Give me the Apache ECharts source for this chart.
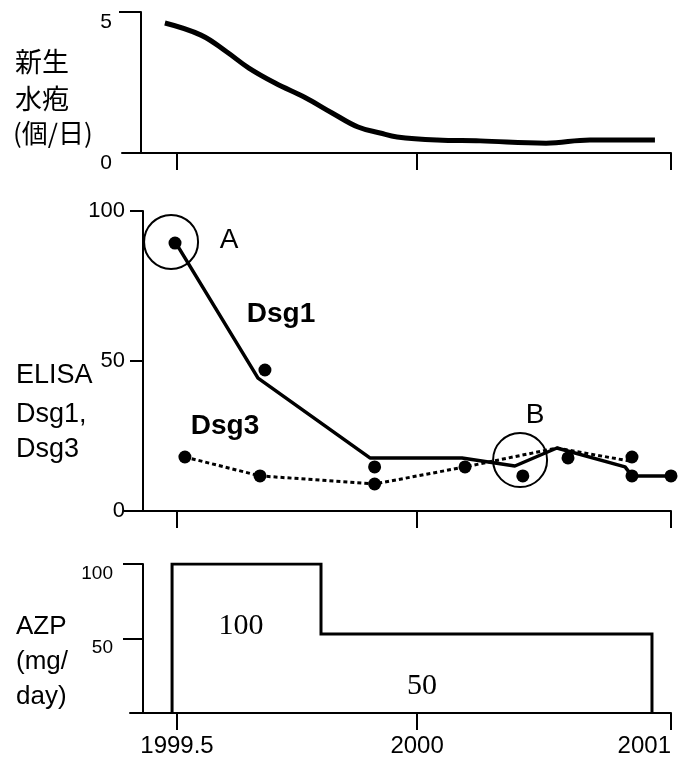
<!DOCTYPE html>
<html>
<head>
<meta charset="utf-8">
<script src="https://cdn.jsdelivr.net/npm/echarts@6.0.0/dist/echarts.min.js"></script>
<style>
  html, body { margin: 0; padding: 0; background: #fff; }
  #chart { width: 685px; height: 771px; }
</style>
</head>
<body>
<div id="chart"></div>
<script>
// x is measured in "ticks": 0 = 1999.5, 2 = 2001 (the original axis is not linear in time)
const xTickPos = [0, 0.972, 2];
const xTickLabels = ['1999.5', '2000', '2001'];

// top panel - new blisters per day
const blisterX = [-0.049, 0.097, 0.202, 0.291, 0.397, 0.522, 0.628, 0.733, 0.822, 0.891, 1.053, 1.227, 1.494, 1.672, 1.935];
const blisterY = [4.61, 4.18, 3.58, 3.01, 2.48, 1.95, 1.42, 0.92, 0.71, 0.57, 0.46, 0.43, 0.35, 0.46, 0.46];

// middle panel - ELISA
const dsg1LineX = [0, 0.328, 0.781, 1.154, 1.368, 1.538, 1.814, 1.842, 2.0];
const dsg1LineY = [88.7, 44.3, 17.7, 17.7, 15, 21, 14.7, 11.7, 11.7];
const dsg1DotX = [-0.008, 0.356, 0.80, 1.40, 1.842, 2.0];
const dsg1DotY = [89.3, 47, 14.7, 11.7, 11.7, 11.7];
const dsg3LineX = [0.032, 0.336, 0.80, 1.166, 1.538, 1.842];
const dsg3LineY = [18, 11.7, 9, 14.7, 21, 16.5];
const dsg3DotX = [0.032, 0.336, 0.80, 1.166, 1.583, 1.842];
const dsg3DotY = [18, 11.7, 9, 14.7, 17.7, 18];
const circleX = [-0.024, 1.389];   // A, B
const circleY = [89.7, 17];

// bottom panel - AZP dose
const azpX = [-0.02, -0.02, 0.583, 0.583, 1.923, 1.923];
const azpY = [0, 100, 100, 53, 53, 0];

const zip = (xs, ys) => xs.map((x, i) => [x, ys[i]]);

const black = '#000';
const sans = "'Liberation Sans', Arial, sans-serif";

function xAxisFor(gridIndex, min, showLabels) {
  return {
    type: 'value',
    gridIndex: gridIndex,
    min: min,
    max: 2,
    axisLine: { onZero: false, lineStyle: { color: black, width: 2 } },
    axisTick: { customValues: xTickPos, length: 17, lineStyle: { color: black, width: 2 } },
    axisLabel: {
      show: showLabels,
      customValues: xTickPos,
      formatter: (v) => xTickLabels[xTickPos.indexOf(v)],
      color: black,
      fontFamily: sans,
      fontSize: 24,
      margin: 21,
      alignMaxLabel: 'right'
    },
    splitLine: { show: false }
  };
}

function yAxisFor(gridIndex, max, offset, labelVals, tickVals, tickLen, margin, fontSize, vAlign) {
  return {
    type: 'value',
    gridIndex: gridIndex,
    min: 0,
    max: max,
    offset: offset,
    axisLine: { show: true, onZero: false, lineStyle: { color: black, width: 2 } },
    axisTick: { show: true, customValues: tickVals, length: tickLen, lineStyle: { color: black, width: 2 } },
    axisLabel: {
      customValues: labelVals,
      color: black,
      fontFamily: sans,
      fontSize: fontSize,
      margin: margin,
      verticalAlign: vAlign
    },
    splitLine: { show: false }
  };
}

function txt(text, x, y, size, opts) {
  opts = opts || {};
  return {
    type: 'text',
    x: x,
    y: y,
    style: {
      text: text,
      fill: black,
      font: (opts.weight || 'normal') + ' ' + size + 'px ' + (opts.family || sans),
      textAlign: opts.align || 'left',
      textVerticalAlign: 'middle'
    }
  };
}

const cjk = "'Noto Sans CJK JP', 'Noto Sans CJK SC', sans-serif";
const serif = "'Liberation Serif', 'Times New Roman', serif";

const option = {
  animation: false,
  backgroundColor: '#fff',
  grid: [
    { left: 122, right: 14, top: 12, height: 141 },
    { left: 124, right: 14, top: 211, height: 300 },
    { left: 130, right: 14, top: 564, height: 149 }
  ],
  xAxis: [
    xAxisFor(0, -0.2227, false),
    xAxisFor(1, -0.2146, false),
    xAxisFor(2, -0.1903, true)
  ],
  yAxis: [
    yAxisFor(0, 5, -19, [0, 5], [5], 22, 29, 21, 'top'),
    yAxisFor(1, 100, -19, [0, 50, 100], [50, 100], 13, 18, 22, 'middle'),
    yAxisFor(2, 100, -13, [50, 100], [50, 100], 20, 30, 19, 'top')
  ],
  series: [
    {
      type: 'line', xAxisIndex: 0, yAxisIndex: 0,
      data: zip(blisterX, blisterY),
      smooth: 0.4, showSymbol: false,
      lineStyle: { color: black, width: 5 }
    },
    {
      type: 'line', xAxisIndex: 1, yAxisIndex: 1,
      data: zip(dsg1LineX, dsg1LineY),
      showSymbol: false,
      lineStyle: { color: black, width: 3.5 }
    },
    {
      type: 'line', xAxisIndex: 1, yAxisIndex: 1,
      data: zip(dsg3LineX, dsg3LineY),
      showSymbol: false,
      lineStyle: { color: black, width: 3, type: [4, 3] }
    },
    {
      type: 'scatter', xAxisIndex: 1, yAxisIndex: 1,
      data: zip(dsg1DotX, dsg1DotY).concat(zip(dsg3DotX, dsg3DotY)),
      symbolSize: 13,
      itemStyle: { color: black, opacity: 1 }
    },
    {
      type: 'scatter', xAxisIndex: 1, yAxisIndex: 1,
      data: zip(circleX, circleY),
      symbolSize: 54,
      itemStyle: { color: 'rgba(0,0,0,0)', borderColor: black, borderWidth: 2, opacity: 1 }
    },
    {
      type: 'line', xAxisIndex: 2, yAxisIndex: 2,
      data: zip(azpX, azpY),
      showSymbol: false,
      lineStyle: { color: black, width: 3, join: 'miter' }
    }
  ],
  graphic: [
    txt('新生', 15, 62, 27, { family: cjk }),
    txt('水疱', 15, 99, 27, { family: cjk }),
    txt('(個/日)', 13, 133, 26, { family: cjk }),
    txt('ELISA', 16, 376, 27),
    txt('Dsg1,', 16, 415, 27),
    txt('Dsg3', 16, 450, 27),
    txt('AZP', 16, 627, 26),
    txt('(mg/', 16, 662, 26),
    txt('day)', 16, 697, 26),
    txt('A', 229, 240, 28, { align: 'center' }),
    txt('B', 535, 415, 28, { align: 'center' }),
    txt('Dsg1', 281, 314, 28, { align: 'center', weight: 'bold' }),
    txt('Dsg3', 225, 426, 28, { align: 'center', weight: 'bold' }),
    txt('100', 241, 626, 30, { align: 'center', family: serif }),
    txt('50', 422, 686, 30, { align: 'center', family: serif })
  ]
};

const chart = echarts.init(document.getElementById('chart'));
chart.setOption(option);
</script>
</body>
</html>
